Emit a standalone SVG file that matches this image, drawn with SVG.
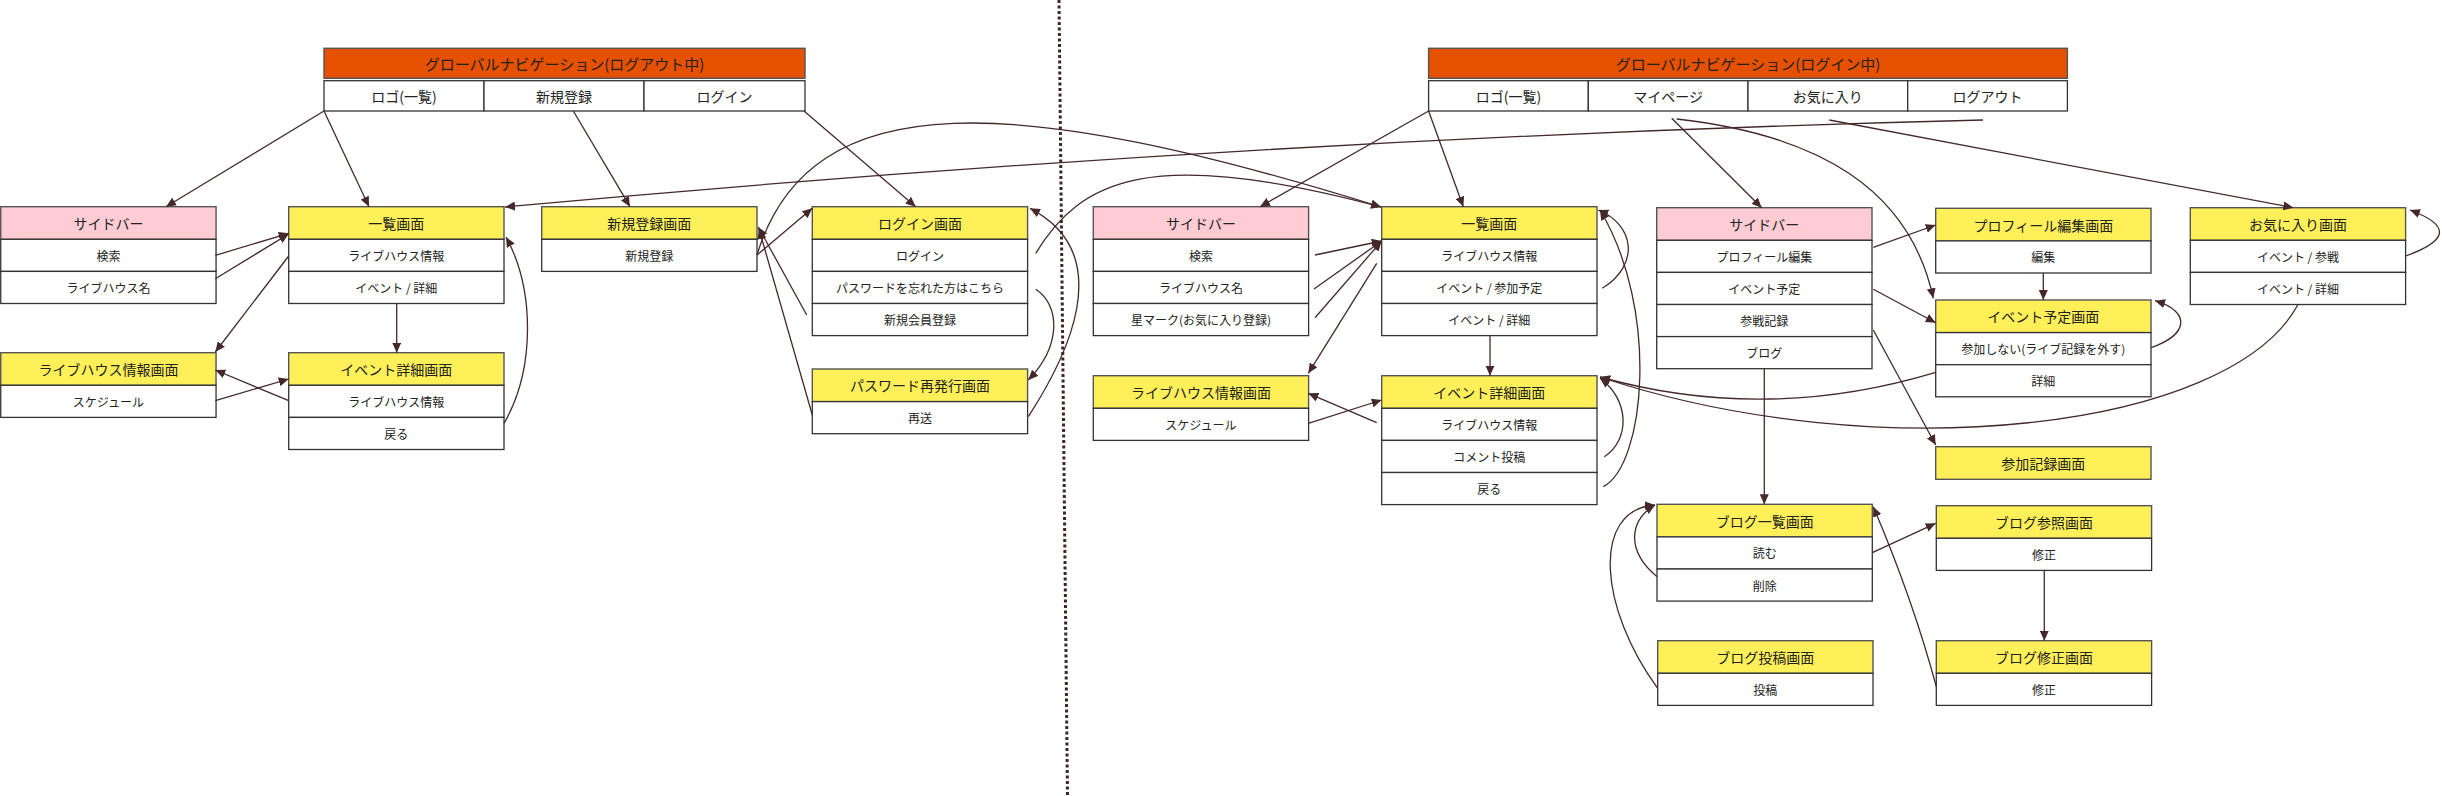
<svg xmlns="http://www.w3.org/2000/svg" width="2442" height="796" viewBox="0 0 2442 796">
<defs>
<style>
.hd{stroke:#555;stroke-width:1.4}
.y{fill:#fff05a}.p{fill:#ffccd3}.o{fill:#e65100}
.row{fill:#fff;stroke:#333;stroke-width:1.3}
.t{font-family:"Noto Sans CJK JP","Noto Sans",sans-serif;text-anchor:middle;dominant-baseline:central;fill:#222}
.th{font-size:14px}.tr{font-size:12px}.tn{font-size:15px}.tc{font-size:14px}
.e{fill:none;stroke:#45292a;stroke-width:1.3;marker-end:url(#a)}
</style>
<marker id="a" markerUnits="userSpaceOnUse" markerWidth="11" markerHeight="9" refX="10" refY="4.5" orient="auto" viewBox="0 0 11 9"><path d="M0,0 L10,4.5 L0,9 z" fill="#45292a"/></marker>
</defs>
<rect width="2442" height="796" fill="#fff"/>
<g id="divider"><line x1="1059" y1="0" x2="1067.5" y2="796" stroke="#3d2624" stroke-width="3" stroke-dasharray="3 2.5"/></g>

<g id="nav-logout" transform="translate(324,48.3)">
<rect class="o hd" width="481" height="30"/>
<text class="t tn" x="240.5" y="15">グローバルナビゲーション(ログアウト中)</text>
<rect class="row" x="0" y="32.4" width="160" height="30.3"/><text class="t tc" x="80" y="47.55">ロゴ(一覧)</text>
<rect class="row" x="160" y="32.4" width="160" height="30.3"/><text class="t tc" x="240" y="47.55">新規登録</text>
<rect class="row" x="320" y="32.4" width="161" height="30.3"/><text class="t tc" x="400.5" y="47.55">ログイン</text>
</g>

<g id="nav-login" transform="translate(1428.6,48.3)">
<rect class="o hd" width="638.8" height="30"/>
<text class="t tn" x="319.4" y="15">グローバルナビゲーション(ログイン中)</text>
<rect class="row" x="0" y="32.4" width="159.7" height="30.3"/><text class="t tc" x="79.85" y="47.55">ロゴ(一覧)</text>
<rect class="row" x="159.7" y="32.4" width="159.7" height="30.3"/><text class="t tc" x="239.55" y="47.55">マイページ</text>
<rect class="row" x="319.4" y="32.4" width="159.7" height="30.3"/><text class="t tc" x="399.25" y="47.55">お気に入り</text>
<rect class="row" x="479.1" y="32.4" width="159.7" height="30.3"/><text class="t tc" x="558.95" y="47.55">ログアウト</text>
</g>

<g id="l-sidebar" transform="translate(0.75,206.7)">
<rect class="p hd" width="215.3" height="32.6"/><text class="t th" x="107.65" y="16.3">サイドバー</text>
<rect class="row" y="32.6" width="215.3" height="32.1"/><text class="t tr" x="107.65" y="48.65">検索</text>
<rect class="row" y="64.7" width="215.3" height="32.1"/><text class="t tr" x="107.65" y="80.75">ライブハウス名</text>
</g>
<g id="l-list" transform="translate(288.7,206.7)">
<rect class="y hd" width="215.3" height="32.6"/><text class="t th" x="107.65" y="16.3">一覧画面</text>
<rect class="row" y="32.6" width="215.3" height="32.1"/><text class="t tr" x="107.65" y="48.65">ライブハウス情報</text>
<rect class="row" y="64.7" width="215.3" height="32.1"/><text class="t tr" x="107.65" y="80.75">イベント / 詳細</text>
</g>
<g id="l-register" transform="translate(541.7,206.7)">
<rect class="y hd" width="215.3" height="32.6"/><text class="t th" x="107.65" y="16.3">新規登録画面</text>
<rect class="row" y="32.6" width="215.3" height="32.1"/><text class="t tr" x="107.65" y="48.65">新規登録</text>
</g>
<g id="l-login" transform="translate(812.3,206.7)">
<rect class="y hd" width="215.3" height="32.6"/><text class="t th" x="107.65" y="16.3">ログイン画面</text>
<rect class="row" y="32.6" width="215.3" height="32.1"/><text class="t tr" x="107.65" y="48.65">ログイン</text>
<rect class="row" y="64.7" width="215.3" height="32.1"/><text class="t tr" x="107.65" y="80.75">パスワードを忘れた方はこちら</text>
<rect class="row" y="96.8" width="215.3" height="32.1"/><text class="t tr" x="107.65" y="112.85">新規会員登録</text>
</g>
<g id="l-livehouse" transform="translate(0.75,352.7)">
<rect class="y hd" width="215.3" height="32.6"/><text class="t th" x="107.65" y="16.3">ライブハウス情報画面</text>
<rect class="row" y="32.6" width="215.3" height="32.1"/><text class="t tr" x="107.65" y="48.65">スケジュール</text>
</g>
<g id="l-event" transform="translate(288.7,352.7)">
<rect class="y hd" width="215.3" height="32.6"/><text class="t th" x="107.65" y="16.3">イベント詳細画面</text>
<rect class="row" y="32.6" width="215.3" height="32.1"/><text class="t tr" x="107.65" y="48.65">ライブハウス情報</text>
<rect class="row" y="64.7" width="215.3" height="32.1"/><text class="t tr" x="107.65" y="80.75">戻る</text>
</g>
<g id="l-password" transform="translate(812.3,369)">
<rect class="y hd" width="215.3" height="32.6"/><text class="t th" x="107.65" y="16.3">パスワード再発行画面</text>
<rect class="row" y="32.6" width="215.3" height="32.1"/><text class="t tr" x="107.65" y="48.65">再送</text>
</g>

<g id="r-sidebar" transform="translate(1093.3,206.7)">
<rect class="p hd" width="215.3" height="32.6"/><text class="t th" x="107.65" y="16.3">サイドバー</text>
<rect class="row" y="32.6" width="215.3" height="32.1"/><text class="t tr" x="107.65" y="48.65">検索</text>
<rect class="row" y="64.7" width="215.3" height="32.1"/><text class="t tr" x="107.65" y="80.75">ライブハウス名</text>
<rect class="row" y="96.8" width="215.3" height="32.1"/><text class="t tr" x="107.65" y="112.85">星マーク(お気に入り登録)</text>
</g>
<g id="r-list" transform="translate(1381.7,206.7)">
<rect class="y hd" width="215.3" height="32.6"/><text class="t th" x="107.65" y="16.3">一覧画面</text>
<rect class="row" y="32.6" width="215.3" height="32.1"/><text class="t tr" x="107.65" y="48.65">ライブハウス情報</text>
<rect class="row" y="64.7" width="215.3" height="32.1"/><text class="t tr" x="107.65" y="80.75">イベント / 参加予定</text>
<rect class="row" y="96.8" width="215.3" height="32.1"/><text class="t tr" x="107.65" y="112.85">イベント / 詳細</text>
</g>
<g id="r-mypage" transform="translate(1656.7,207.7)">
<rect class="p hd" width="215.3" height="32.6"/><text class="t th" x="107.65" y="16.3">サイドバー</text>
<rect class="row" y="32.6" width="215.3" height="32.1"/><text class="t tr" x="107.65" y="48.65">プロフィール編集</text>
<rect class="row" y="64.7" width="215.3" height="32.1"/><text class="t tr" x="107.65" y="80.75">イベント予定</text>
<rect class="row" y="96.8" width="215.3" height="32.1"/><text class="t tr" x="107.65" y="112.85">参戦記録</text>
<rect class="row" y="128.9" width="215.3" height="32.1"/><text class="t tr" x="107.65" y="144.95">ブログ</text>
</g>
<g id="r-profile" transform="translate(1935.7,208.3)">
<rect class="y hd" width="215.3" height="32.6"/><text class="t th" x="107.65" y="16.3">プロフィール編集画面</text>
<rect class="row" y="32.6" width="215.3" height="32.1"/><text class="t tr" x="107.65" y="48.65">編集</text>
</g>
<g id="r-favorite" transform="translate(2190.3,207.7)">
<rect class="y hd" width="215.3" height="32.6"/><text class="t th" x="107.65" y="16.3">お気に入り画面</text>
<rect class="row" y="32.6" width="215.3" height="32.1"/><text class="t tr" x="107.65" y="48.65">イベント / 参戦</text>
<rect class="row" y="64.7" width="215.3" height="32.1"/><text class="t tr" x="107.65" y="80.75">イベント / 詳細</text>
</g>
<g id="r-eventplan" transform="translate(1935.7,300)">
<rect class="y hd" width="215.3" height="32.6"/><text class="t th" x="107.65" y="16.3">イベント予定画面</text>
<rect class="row" y="32.6" width="215.3" height="32.1"/><text class="t tr" x="107.65" y="48.65">参加しない(ライブ記録を外す)</text>
<rect class="row" y="64.7" width="215.3" height="32.1"/><text class="t tr" x="107.65" y="80.75">詳細</text>
</g>
<g id="r-livehouse" transform="translate(1093.3,375.7)">
<rect class="y hd" width="215.3" height="32.6"/><text class="t th" x="107.65" y="16.3">ライブハウス情報画面</text>
<rect class="row" y="32.6" width="215.3" height="32.1"/><text class="t tr" x="107.65" y="48.65">スケジュール</text>
</g>
<g id="r-event" transform="translate(1381.7,375.7)">
<rect class="y hd" width="215.3" height="32.6"/><text class="t th" x="107.65" y="16.3">イベント詳細画面</text>
<rect class="row" y="32.6" width="215.3" height="32.1"/><text class="t tr" x="107.65" y="48.65">ライブハウス情報</text>
<rect class="row" y="64.7" width="215.3" height="32.1"/><text class="t tr" x="107.65" y="80.75">コメント投稿</text>
<rect class="row" y="96.8" width="215.3" height="32.1"/><text class="t tr" x="107.65" y="112.85">戻る</text>
</g>
<g id="r-record" transform="translate(1935.7,446.7)">
<rect class="y hd" width="215.3" height="32.6"/><text class="t th" x="107.65" y="16.3">参加記録画面</text>
</g>
<g id="r-bloglist" transform="translate(1657,504.3)">
<rect class="y hd" width="215.3" height="32.6"/><text class="t th" x="107.65" y="16.3">ブログ一覧画面</text>
<rect class="row" y="32.6" width="215.3" height="32.1"/><text class="t tr" x="107.65" y="48.65">読む</text>
<rect class="row" y="64.7" width="215.3" height="32.1"/><text class="t tr" x="107.65" y="80.75">削除</text>
</g>
<g id="r-blogview" transform="translate(1936.3,505.7)">
<rect class="y hd" width="215.3" height="32.6"/><text class="t th" x="107.65" y="16.3">ブログ参照画面</text>
<rect class="row" y="32.6" width="215.3" height="32.1"/><text class="t tr" x="107.65" y="48.65">修正</text>
</g>
<g id="r-blogpost" transform="translate(1657.7,640.7)">
<rect class="y hd" width="215.3" height="32.6"/><text class="t th" x="107.65" y="16.3">ブログ投稿画面</text>
<rect class="row" y="32.6" width="215.3" height="32.1"/><text class="t tr" x="107.65" y="48.65">投稿</text>
</g>
<g id="r-blogedit" transform="translate(1936.3,640.7)">
<rect class="y hd" width="215.3" height="32.6"/><text class="t th" x="107.65" y="16.3">ブログ修正画面</text>
<rect class="row" y="32.6" width="215.3" height="32.1"/><text class="t tr" x="107.65" y="48.65">修正</text>
</g>

<g id="connectors">
<path class="e" d="M324 111 L166 206.7"/>
<path class="e" d="M324 111 L369 206.7"/>
<path class="e" d="M215.3 255.3 L288.7 233.3"/>
<path class="e" d="M215.3 278.7 L288.7 234"/>
<path class="e" d="M288.7 256 L215.3 352"/>
<path class="e" d="M396.7 303.5 L396.7 352.7"/>
<path class="e" d="M215.3 400.7 L288.7 379"/>
<path class="e" d="M288.7 400.7 L215.3 370"/>
<path class="e" d="M504 423.3 C535 370 535 290 506 237"/>
<path class="e" d="M1983 120 Q1244 138.5 505 207"/>
<path class="e" d="M573.3 111 L630 206.7"/>
<path class="e" d="M804 111 L915.7 206.7"/>
<path class="e" d="M757 255 L812.3 208.3"/>
<path class="e" d="M806.7 315 L758.3 227"/>
<path class="e" d="M812.3 415 L759 229"/>
<path class="e" d="M757 255 C810 80 1020 95 1381 207"/>
<path class="e" d="M1035.7 253.3 C1080 180 1150 145 1381 207"/>
<path class="e" d="M1035.7 289.3 C1060 305 1062 345 1028.3 380"/>
<path class="e" d="M1028.3 416.7 C1065 360 1120 255 1030 208.3"/>
<path class="e" d="M1428.6 111 L1260 206.7"/>
<path class="e" d="M1428.6 111 L1463.3 206.7"/>
<path class="e" d="M1315 255 L1381.7 241"/>
<path class="e" d="M1314 289 L1381.7 241"/>
<path class="e" d="M1315 317.7 L1381.7 241"/>
<path class="e" d="M1376.7 263.3 L1308.3 373.3"/>
<path class="e" d="M1490 335.6 L1490 375.7"/>
<path class="e" d="M1308.3 423.3 L1381.7 400"/>
<path class="e" d="M1376.7 422.7 L1308.3 393.3"/>
<path class="e" d="M1602.3 288.3 C1640 265 1635 225 1598.3 210"/>
<path class="e" d="M1603.3 486.7 C1645 465 1660 310 1600 210"/>
<path class="e" d="M1604.3 456.7 C1630 440 1630 400 1600 378.3"/>
<path class="e" d="M1671.7 118.3 L1761.7 207.7"/>
<path class="e" d="M1676.7 119 C1820 135 1910 190 1933.3 298.3"/>
<path class="e" d="M1829.3 120 L2293.3 207.7"/>
<path class="e" d="M1873.3 247.3 L1935.7 225"/>
<path class="e" d="M1873.3 289.3 L1935.7 322.7"/>
<path class="e" d="M1873.3 330 L1935.7 445"/>
<path class="e" d="M1764.3 368.7 L1764.3 504.3"/>
<path class="e" d="M2043.3 273 L2043.3 300"/>
<path class="e" d="M1935.7 372.3 Q1766 423.5 1600 377"/>
<path class="e" d="M2297.7 305 C2230 430 1880 470 1600 377"/>
<path class="e" d="M2151 347.7 C2188 335 2192 312 2155 300.7"/>
<path class="e" d="M2405.7 256 C2450 240 2450 225 2410 210"/>
<path class="e" d="M1657 576.7 C1625 550 1630 520 1655 505"/>
<path class="e" d="M1657.7 688.3 C1600 610 1590 510 1655 505"/>
<path class="e" d="M1872.3 552.7 L1935.7 523.3"/>
<path class="e" d="M2044.3 570.4 L2044.3 640.7"/>
<path class="e" d="M1936.3 686.7 Q1913 600 1873.3 506.7"/>
</g>
</svg>
